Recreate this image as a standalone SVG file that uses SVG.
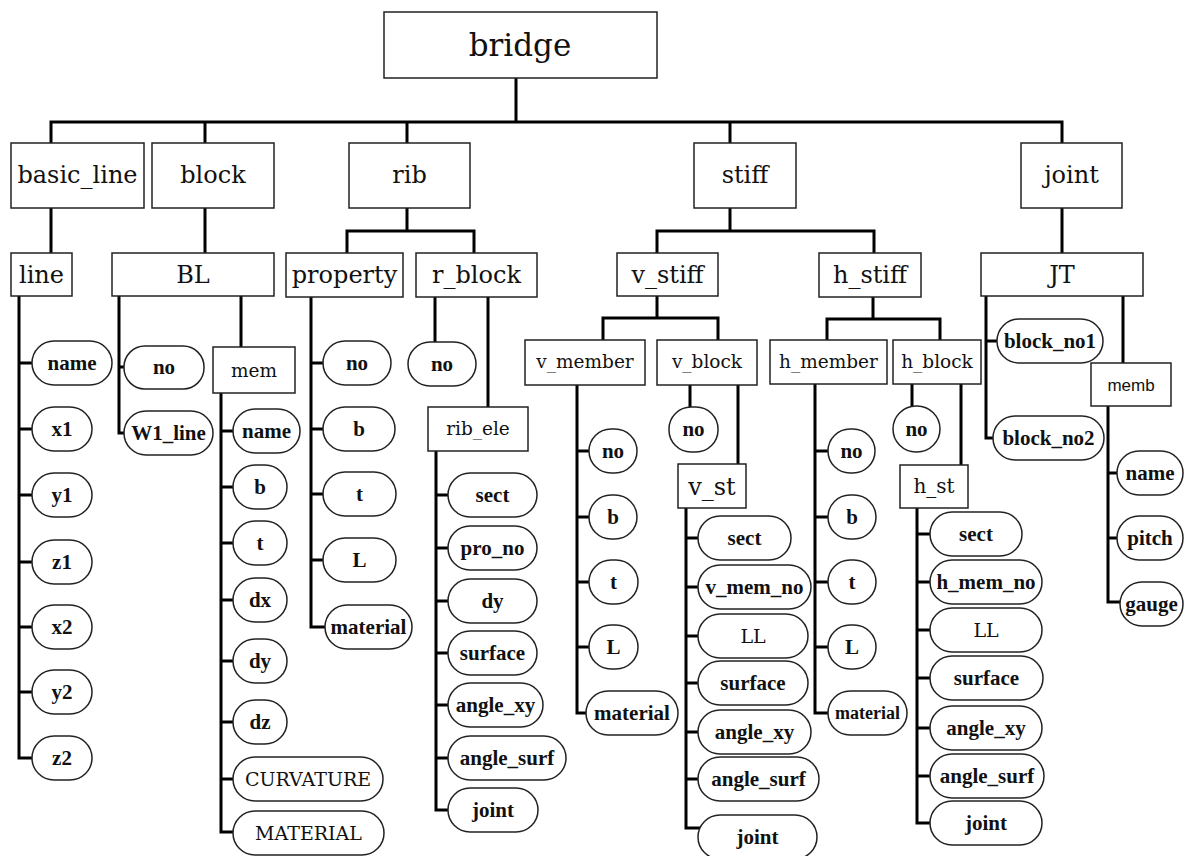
<svg xmlns="http://www.w3.org/2000/svg" width="1187" height="856" viewBox="0 0 1187 856">
<style>
.box{fill:#fff;stroke:#222;stroke-width:1.5}
.leaf{fill:#fff;stroke:#222;stroke-width:1.5}
.c{fill:none;stroke:#000;stroke-width:3}
text{fill:#111;text-anchor:middle;font-family:"DejaVu Serif","Liberation Serif",serif}
.t0{font-size:31px}
.t1{font-size:24px}
.t2{font-size:18.5px}
.lf{font-family:"Liberation Serif","DejaVu Serif",serif;font-size:21px;font-weight:bold}
.lr{font-size:19px}
.sn{font-family:"Liberation Sans",Arial,sans-serif;font-size:17px}
</style>
<rect width="1187" height="856" fill="#fff"/>
<g id="connectors">
<path class="c" d="M516 78V122M51 143V122H1062V143M205 122V143M407 122V143M730 122V143"/>
<path class="c" d="M51 208V253M205 208V253M1062 208V253"/>
<path class="c" d="M407 208V231M347 253V231H474V253"/>
<path class="c" d="M730 208V231M657 253V231H874V253"/>
<path class="c" d="M19 296V758H32M19 363H32M19 429H32M19 495H32M19 562H32M19 627H32M19 692H32"/>
<path class="c" d="M119 296V433H124M119 367H124M241 296V347"/>
<path class="c" d="M221 393V832H234M221 431H233M221 487H233M221 543H233M221 600H233M221 661H233M221 722H233M221 779H233"/>
<path class="c" d="M311 296V627H325M311 363H323M311 429H323M311 494H323M311 560H323"/>
<path class="c" d="M435 296V342M488 296V407"/>
<path class="c" d="M436 451V810H448M436 495H448M436 548H448M436 601H448M436 653H448M436 705H448M436 758H448"/>
<path class="c" d="M657 296V318M603 340V318H718V340"/>
<path class="c" d="M577 385V713H586M577 451H589M577 517H589M577 582H589M577 647H589"/>
<path class="c" d="M690 385V407M738 385V464"/>
<path class="c" d="M686 508V828H700M686 538H698M686 587H698M686 636H698M686 683H698M686 732H698M686 779H698"/>
<path class="c" d="M873 296V319M827 340V319H940V340"/>
<path class="c" d="M815 384V713H828M815 451H828M815 517H828M815 582H828M815 647H828"/>
<path class="c" d="M912 384V406M961 384V465"/>
<path class="c" d="M917 508V823H930M917 534H930M917 582H930M917 630H930M917 678H930M917 728H930M917 776H930"/>
<path class="c" d="M986 296V438H993M986 341H997M1123 296V363"/>
<path class="c" d="M1108 406V602H1120M1108 473H1117M1108 538H1117"/>
</g>
<g id="bridge"><rect class="box" x="384" y="12" width="273" height="66"/><text class="t0" x="520" y="56">bridge</text></g>
<g id="basic_line"><rect class="box" x="11" y="143" width="133" height="65"/><text class="t1" x="77.5" y="183">basic_line</text></g>
<g id="block"><rect class="box" x="152" y="143" width="122" height="65"/><text class="t1" x="213" y="183">block</text></g>
<g id="rib"><rect class="box" x="349" y="143" width="121" height="65"/><text class="t1" x="409.5" y="183">rib</text></g>
<g id="stiff"><rect class="box" x="694" y="143" width="102" height="65"/><text class="t1" x="745" y="183">stiff</text></g>
<g id="joint"><rect class="box" x="1021" y="143" width="101" height="65"/><text class="t1" x="1071.5" y="183">joint</text></g>
<g id="line"><rect class="box" x="11" y="253" width="61" height="43"/><text class="t1" x="41.5" y="283">line</text></g>
<g id="BL"><rect class="box" x="112" y="253" width="162" height="43"/><text class="t1" x="193" y="283">BL</text></g>
<g id="property"><rect class="box" x="286" y="253" width="117" height="44"/><text class="t1" x="344.5" y="283">property</text></g>
<g id="r_block"><rect class="box" x="416" y="253" width="121" height="44"/><text class="t1" x="476.5" y="283">r_block</text></g>
<g id="v_stiff"><rect class="box" x="617" y="253" width="101" height="43"/><text class="t1" x="667.5" y="283">v_stiff</text></g>
<g id="h_stiff"><rect class="box" x="819" y="253" width="102" height="44"/><text class="t1" x="870" y="283">h_stiff</text></g>
<g id="JT"><rect class="box" x="981" y="253" width="162" height="43"/><text class="t1" x="1062" y="283">JT</text></g>
<g id="line_name"><rect class="leaf" x="32" y="341" width="80" height="44" rx="22"/><text class="lf" x="72" y="370">name</text></g>
<g id="line_x1"><rect class="leaf" x="32" y="407" width="60" height="44" rx="22"/><text class="lf" x="62" y="436">x1</text></g>
<g id="line_y1"><rect class="leaf" x="32" y="473" width="60" height="44" rx="22"/><text class="lf" x="62" y="502">y1</text></g>
<g id="line_z1"><rect class="leaf" x="32" y="540" width="60" height="44" rx="22"/><text class="lf" x="62" y="569">z1</text></g>
<g id="line_x2"><rect class="leaf" x="32" y="605" width="60" height="44" rx="22"/><text class="lf" x="62" y="634">x2</text></g>
<g id="line_y2"><rect class="leaf" x="32" y="670" width="60" height="44" rx="22"/><text class="lf" x="62" y="699">y2</text></g>
<g id="line_z2"><rect class="leaf" x="32" y="736" width="60" height="44" rx="22"/><text class="lf" x="62" y="765">z2</text></g>
<g id="BL_no"><rect class="leaf" x="124" y="346" width="80" height="43" rx="21"/><text class="lf" x="164" y="374">no</text></g>
<g id="BL_W1_line"><rect class="leaf" x="124" y="411" width="89" height="44" rx="22"/><text class="lf" x="168.5" y="440">W1_line</text></g>
<g id="mem"><rect class="box" x="213" y="347" width="82" height="46"/><text class="t2" x="254" y="377">mem</text></g>
<g id="mem_name"><rect class="leaf" x="233" y="409" width="67" height="44" rx="22"/><text class="lf" x="266.5" y="438">name</text></g>
<g id="mem_b"><rect class="leaf" x="233" y="465" width="54" height="44" rx="22"/><text class="lf" x="260" y="494">b</text></g>
<g id="mem_t"><rect class="leaf" x="233" y="521" width="54" height="44" rx="22"/><text class="lf" x="260" y="550">t</text></g>
<g id="mem_dx"><rect class="leaf" x="233" y="578" width="54" height="44" rx="22"/><text class="lf" x="260" y="607">dx</text></g>
<g id="mem_dy"><rect class="leaf" x="233" y="639" width="54" height="44" rx="22"/><text class="lf" x="260" y="668">dy</text></g>
<g id="mem_dz"><rect class="leaf" x="233" y="700" width="54" height="44" rx="22"/><text class="lf" x="260" y="729">dz</text></g>
<g id="mem_CURVATURE"><rect class="leaf" x="233" y="757" width="150" height="44" rx="22"/><text class="lr" x="308" y="786">CURVATURE</text></g>
<g id="mem_MATERIAL"><rect class="leaf" x="233" y="811" width="151" height="44" rx="22"/><text class="lr" x="308.5" y="840">MATERIAL</text></g>
<g id="prop_no"><rect class="leaf" x="323" y="341" width="68" height="44" rx="22"/><text class="lf" x="357" y="370">no</text></g>
<g id="prop_b"><rect class="leaf" x="323" y="407" width="72" height="44" rx="22"/><text class="lf" x="359" y="436">b</text></g>
<g id="prop_t"><rect class="leaf" x="323" y="472" width="73" height="44" rx="22"/><text class="lf" x="359.5" y="501">t</text></g>
<g id="prop_L"><rect class="leaf" x="323" y="538" width="73" height="44" rx="22"/><text class="lf" x="359.5" y="567">L</text></g>
<g id="prop_material"><rect class="leaf" x="325" y="605" width="87" height="44" rx="22"/><text class="lf" x="368.5" y="634">material</text></g>
<g id="rblock_no"><rect class="leaf" x="408" y="342" width="68" height="44" rx="22"/><text class="lf" x="442" y="371">no</text></g>
<g id="rib_ele"><rect class="box" x="428" y="407" width="100" height="44"/><text class="t2" x="478" y="435">rib_ele</text></g>
<g id="re_sect"><rect class="leaf" x="448" y="473" width="89" height="44" rx="22"/><text class="lf" x="492.5" y="502">sect</text></g>
<g id="re_pro_no"><rect class="leaf" x="448" y="526" width="89" height="44" rx="22"/><text class="lf" x="492.5" y="555">pro_no</text></g>
<g id="re_dy"><rect class="leaf" x="448" y="579" width="89" height="44" rx="22"/><text class="lf" x="492.5" y="608">dy</text></g>
<g id="re_surface"><rect class="leaf" x="448" y="631" width="89" height="44" rx="22"/><text class="lf" x="492.5" y="660">surface</text></g>
<g id="re_angle_xy"><rect class="leaf" x="448" y="683" width="95" height="44" rx="22"/><text class="lf" x="495.5" y="712">angle_xy</text></g>
<g id="re_angle_surf"><rect class="leaf" x="448" y="736" width="118" height="44" rx="22"/><text class="lf" x="507" y="765">angle_surf</text></g>
<g id="re_joint"><rect class="leaf" x="448" y="788" width="90" height="44" rx="22"/><text class="lf" x="493" y="817">joint</text></g>
<g id="v_member"><rect class="box" x="525" y="340" width="120" height="45"/><text class="t2" x="585" y="368">v_member</text></g>
<g id="v_block"><rect class="box" x="657" y="340" width="100" height="45"/><text class="t2" x="707" y="368">v_block</text></g>
<g id="vm_no"><rect class="leaf" x="589" y="429" width="48" height="44" rx="22"/><text class="lf" x="613" y="458">no</text></g>
<g id="vm_b"><rect class="leaf" x="589" y="495" width="48" height="44" rx="22"/><text class="lf" x="613" y="524">b</text></g>
<g id="vm_t"><rect class="leaf" x="589" y="560" width="49" height="44" rx="22"/><text class="lf" x="613.5" y="589">t</text></g>
<g id="vm_L"><rect class="leaf" x="589" y="625" width="49" height="44" rx="22"/><text class="lf" x="613.5" y="654">L</text></g>
<g id="vm_material"><rect class="leaf" x="586" y="691" width="92" height="44" rx="22"/><text class="lf" x="632" y="720">material</text></g>
<g id="vb_no"><rect class="leaf" x="669" y="407" width="49" height="45" rx="22"/><text class="lf" x="693.5" y="436">no</text></g>
<g id="v_st"><rect class="box" x="678" y="464" width="68" height="44"/><text class="t1" x="712" y="495">v_st</text></g>
<g id="vs_sect"><rect class="leaf" x="698" y="516" width="93" height="44" rx="22"/><text class="lf" x="744.5" y="545">sect</text></g>
<g id="vs_v_mem_no"><rect class="leaf" x="698" y="565" width="113" height="44" rx="22"/><text class="lf" x="754.5" y="594">v_mem_no</text></g>
<g id="vs_LL"><rect class="leaf" x="698" y="614" width="110" height="44" rx="22"/><text class="lr" x="753" y="643">LL</text></g>
<g id="vs_surface"><rect class="leaf" x="698" y="661" width="110" height="44" rx="22"/><text class="lf" x="753" y="690">surface</text></g>
<g id="vs_angle_xy"><rect class="leaf" x="698" y="710" width="113" height="44" rx="22"/><text class="lf" x="754.5" y="739">angle_xy</text></g>
<g id="vs_angle_surf"><rect class="leaf" x="698" y="757" width="121" height="44" rx="22"/><text class="lf" x="758.5" y="786">angle_surf</text></g>
<g id="vs_joint"><rect class="leaf" x="698" y="815" width="119" height="44" rx="22"/><text class="lf" x="757.5" y="844">joint</text></g>
<g id="h_member"><rect class="box" x="770" y="340" width="117" height="44"/><text class="t2" x="828.5" y="368">h_member</text></g>
<g id="h_block"><rect class="box" x="893" y="340" width="88" height="44"/><text class="t2" x="937" y="368">h_block</text></g>
<g id="hm_no"><rect class="leaf" x="828" y="429" width="47" height="44" rx="22"/><text class="lf" x="851.5" y="458">no</text></g>
<g id="hm_b"><rect class="leaf" x="828" y="495" width="48" height="44" rx="22"/><text class="lf" x="852" y="524">b</text></g>
<g id="hm_t"><rect class="leaf" x="828" y="560" width="48" height="44" rx="22"/><text class="lf" x="852" y="589">t</text></g>
<g id="hm_L"><rect class="leaf" x="828" y="625" width="48" height="44" rx="22"/><text class="lf" x="852" y="654">L</text></g>
<g id="hm_material"><rect class="leaf" x="828" y="691" width="79" height="44" rx="22"/><text class="lf" x="867.5" y="719" style="font-size:18px">material</text></g>
<g id="hb_no"><rect class="leaf" x="893" y="406" width="47" height="46" rx="23"/><text class="lf" x="916.5" y="436">no</text></g>
<g id="h_st"><rect class="box" x="900" y="465" width="68" height="43"/><text class="t2" x="934" y="493" style="font-size:20px">h_st</text></g>
<g id="hs_sect"><rect class="leaf" x="930" y="512" width="92" height="44" rx="22"/><text class="lf" x="976" y="541">sect</text></g>
<g id="hs_h_mem_no"><rect class="leaf" x="930" y="560" width="112" height="44" rx="22"/><text class="lf" x="986" y="589">h_mem_no</text></g>
<g id="hs_LL"><rect class="leaf" x="930" y="608" width="112" height="44" rx="22"/><text class="lr" x="986" y="637">LL</text></g>
<g id="hs_surface"><rect class="leaf" x="930" y="656" width="113" height="44" rx="22"/><text class="lf" x="986.5" y="685">surface</text></g>
<g id="hs_angle_xy"><rect class="leaf" x="930" y="706" width="112" height="44" rx="22"/><text class="lf" x="986" y="735">angle_xy</text></g>
<g id="hs_angle_surf"><rect class="leaf" x="930" y="754" width="114" height="44" rx="22"/><text class="lf" x="987" y="783">angle_surf</text></g>
<g id="hs_joint"><rect class="leaf" x="930" y="801" width="112" height="44" rx="22"/><text class="lf" x="986" y="830">joint</text></g>
<g id="JT_block_no1"><rect class="leaf" x="997" y="319" width="106" height="44" rx="22"/><text class="lf" x="1050" y="348">block_no1</text></g>
<g id="JT_block_no2"><rect class="leaf" x="993" y="416" width="111" height="44" rx="22"/><text class="lf" x="1048.5" y="445">block_no2</text></g>
<g id="memb"><rect class="box" x="1091" y="363" width="80" height="43"/><text class="sn" x="1131" y="391">memb</text></g>
<g id="memb_name"><rect class="leaf" x="1117" y="451" width="66" height="44" rx="22"/><text class="lf" x="1150" y="480">name</text></g>
<g id="memb_pitch"><rect class="leaf" x="1117" y="516" width="66" height="44" rx="22"/><text class="lf" x="1150" y="545">pitch</text></g>
<g id="memb_gauge"><rect class="leaf" x="1120" y="582" width="63" height="44" rx="22"/><text class="lf" x="1151.5" y="611">gauge</text></g>
</svg>
